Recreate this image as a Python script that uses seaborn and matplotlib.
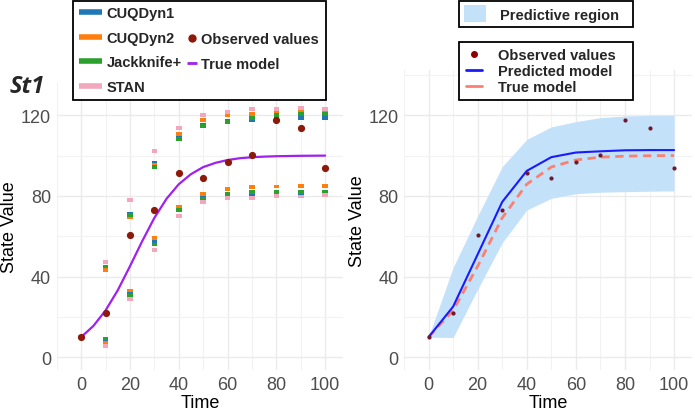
import numpy as np
import pandas as pd
import matplotlib
matplotlib.use('Agg')
import matplotlib.pyplot as plt
import seaborn as sns
from matplotlib.lines import Line2D
from matplotlib.patches import Patch
from matplotlib.ticker import MultipleLocator

# data
times = [0, 10, 20, 30, 40, 50, 60, 70, 80, 90, 100]
observed = [10, 22.1, 60.6, 73.2, 91.2, 88.9, 97.0, 100.3, 117.5, 113.5, 93.9]

cuq1_upper = [10, 44.5, 70.9, 96.2, 109.6, 115.3, 117.2, 117.8, 119.0, 118.7, 118.7]
cuq1_lower = [10, 8.1, 32.1, 57.0, 73.7, 79.2, 80.8, 80.8, 81.3, 81.1, 81.4]
cuq2_upper = [10, 43.5, 69.6, 95.5, 110.9, 117.5, 120.0, 120.8, 121.3, 121.8, 121.7]
cuq2_lower = [10, 7.3, 33.1, 59.2, 74.5, 81.1, 83.6, 84.5, 84.7, 84.9, 84.9]
jk_upper = [10, 45.0, 70.4, 94.5, 108.4, 114.5, 116.8, 118.8, 120.0, 120.5, 120.5]
jk_lower = [10, 9.3, 31.1, 55.9, 72.9, 78.7, 80.8, 82.0, 82.0, 82.0, 82.2]
stan_upper = [10, 47.4, 77.8, 102.1, 113.9, 120.0, 121.6, 123.3, 123.0, 123.4, 123.0]
stan_lower = [10, 5.6, 29.1, 53.2, 70.2, 76.8, 79.2, 79.2, 79.8, 79.7, 80.5]

# true model on a finer time grid (left panel)
t_fine = [0, 5, 10, 15, 20, 25, 30, 35, 40, 45, 50, 55, 60, 65, 70, 75, 80, 85, 90, 95, 100]
true_fine = [10, 15.5, 23.2, 33.2, 45.1, 57.5, 69.1, 78.6, 85.8, 90.8, 94.3, 96.4,
             97.8, 98.7, 99.2, 99.5, 99.7, 99.8, 99.9, 99.95, 100]

# right panel
pred_model = [10, 25.1, 51.0, 77.0, 92.4, 99.2, 101.5, 102.1, 102.6, 102.7, 102.7]
pred_lower = [10, 9.8, 33.7, 56.8, 73.0, 78.8, 81.1, 81.8, 82.1, 82.3, 82.5]
pred_upper = [10, 44.5, 70.0, 94.5, 108.0, 114.2, 116.8, 118.8, 119.6, 119.9, 120.0]
true_coarse = [10, 23.2, 45.1, 69.1, 85.8, 94.3, 97.8, 99.2, 99.7, 99.9, 100]

methods = ['CUQDyn1', 'CUQDyn2', 'Jackknife+', 'STAN']
method_colors = {'CUQDyn1': '#1f77b4', 'CUQDyn2': '#ff7f0e',
                 'Jackknife+': '#2ca02c', 'STAN': '#f2a7bc'}
bounds = {'CUQDyn1': (cuq1_lower, cuq1_upper), 'CUQDyn2': (cuq2_lower, cuq2_upper),
          'Jackknife+': (jk_lower, jk_upper), 'STAN': (stan_lower, stan_upper)}

rows = []
for m in methods:
    lo, up = bounds[m]
    for t, a, b in zip(times, lo, up):
        rows.append({'time': t, 'value': a, 'method': m})
        rows.append({'time': t, 'value': b, 'method': m})
df_int = pd.DataFrame(rows)

sns.set_theme(style='white')
plt.rcParams['font.family'] = ['Liberation Sans', 'DejaVu Sans']

W, H = 695, 414
fig = plt.figure(figsize=(W / 100, H / 100), dpi=100)
ax1 = fig.add_axes([56.7 / W, 43 / H, 286.3 / W, 288 / H])
ax2 = fig.add_axes([404 / W, 43 / H, 288 / W, 300 / H])

rect = [(-1, -0.7), (1, -0.7), (1, 0.7), (-1, 0.7)]
obs_color = '#8b1a0a'

# left panel
sns.lineplot(x=t_fine, y=true_fine, color='#a020f0', lw=1.6, ax=ax1, zorder=2)
sns.scatterplot(data=df_int, x='time', y='value', hue='method', palette=method_colors,
                marker=rect, s=16, linewidth=0, legend=False, ax=ax1, zorder=3)
sns.scatterplot(x=times, y=observed, color=obs_color, s=27, linewidth=0, ax=ax1, zorder=4)
ax1.set_ylim(-6.3, 136.5)

# right panel
ax2.fill_between(times, pred_lower, pred_upper, color='#c4e1fa', lw=0, zorder=1)
sns.lineplot(x=times, y=pred_model, color='#1a1aff', lw=1.5, ax=ax2, zorder=3)
sns.lineplot(x=times, y=true_coarse, color='#fa8072', lw=2, ax=ax2, zorder=2,
             dashes=False, linestyle=(0, (3, 2)))
sns.scatterplot(x=times, y=observed, color='#6e1a2c', s=9, linewidth=0, ax=ax2, zorder=4)
ax2.set_ylim(-6.3, 142.4)

for ax in (ax1, ax2):
    ax.set_xlim(-10, 107.3)
    ax.xaxis.set_major_locator(MultipleLocator(20))
    ax.xaxis.set_minor_locator(MultipleLocator(10))
    ax.yaxis.set_major_locator(MultipleLocator(40))
    ax.yaxis.set_minor_locator(MultipleLocator(20))
    ax.grid(which='major', color='#ebebeb', lw=1.0, zorder=0)
    ax.grid(which='minor', color='#f2f2f2', lw=0.8, zorder=0)
    ax.set_axisbelow(True)
    for s in ax.spines.values():
        s.set_visible(False)
    ax.tick_params(which='both', length=0, labelsize=13, labelcolor='#4d4d4d', pad=4)
    ax.set_xlabel('Time', fontsize=13, color='black', labelpad=1)
    ax.set_ylabel('State Value', fontsize=13, color='black', labelpad=2)

fig.text(10 / W, 1 - 87 / H, 'St1', fontsize=17, fontweight='bold', style='italic',
         family='Open Sans', va='center', ha='left')

prop = {'family': 'Liberation Sans', 'weight': 'bold', 'size': 10.5}

# left legend: methods column with the frame, second column laid on top
h_methods = [Line2D([], [], color=method_colors[m], lw=4, solid_capstyle='butt') for m in methods]
leg1 = fig.legend(h_methods, methods, loc='upper left',
                  bbox_to_anchor=(73 / W, 1 - 1.5 / H, 253 / W, 0), mode='expand',
                  prop=prop, frameon=True, fancybox=False, framealpha=1,
                  edgecolor='black', handlelength=1.6, handletextpad=0.3,
                  labelspacing=0.72, borderpad=0.4, borderaxespad=0)
leg1.get_frame().set_linewidth(1.3)

h_extra = [Line2D([], [], linestyle='none', marker='o', color=obs_color, ms=5),
           Line2D([], [], linestyle='none', marker='_', color='#a020f0', ms=7, mew=2)]
leg1b = fig.legend(h_extra, ['Observed values', 'True model'], loc='upper left',
                   bbox_to_anchor=(186.5 / W, 1 - 33.5 / H), prop=prop, frameon=False,
                   handlelength=0.75, handletextpad=0.25, labelspacing=0.72,
                   borderpad=0, borderaxespad=0)

# right legends
leg2 = fig.legend([Patch(facecolor='#c4e1fa', edgecolor='none')], ['Predictive region'],
                  loc='upper left', bbox_to_anchor=(459 / W, 1 - 1.5 / H, 174 / W, 0),
                  mode='expand', prop=prop, frameon=True, fancybox=False, framealpha=1,
                  edgecolor='black', handlelength=1.5, handleheight=1.45,
                  handletextpad=1.0, borderpad=0.32, borderaxespad=0)
leg2.get_frame().set_linewidth(1.3)

h_right = [Line2D([], [], linestyle='none', marker='o', color='#8b0000', ms=4),
           Line2D([], [], color='#1a1aff', lw=2),
           Line2D([], [], color='#fa8072', lw=2)]
leg3 = fig.legend(h_right, ['Observed values', 'Predicted model', 'True model'],
                  loc='upper left', bbox_to_anchor=(459 / W, 1 - 42.7 / H, 174 / W, 0),
                  mode='expand', prop=prop, frameon=True, fancybox=False, framealpha=1,
                  edgecolor='black', handlelength=1.1, handletextpad=1.1,
                  labelspacing=0.12, borderpad=0.45, borderaxespad=0)
leg3.get_frame().set_linewidth(1.3)

fig.savefig('out.png', dpi=100)
